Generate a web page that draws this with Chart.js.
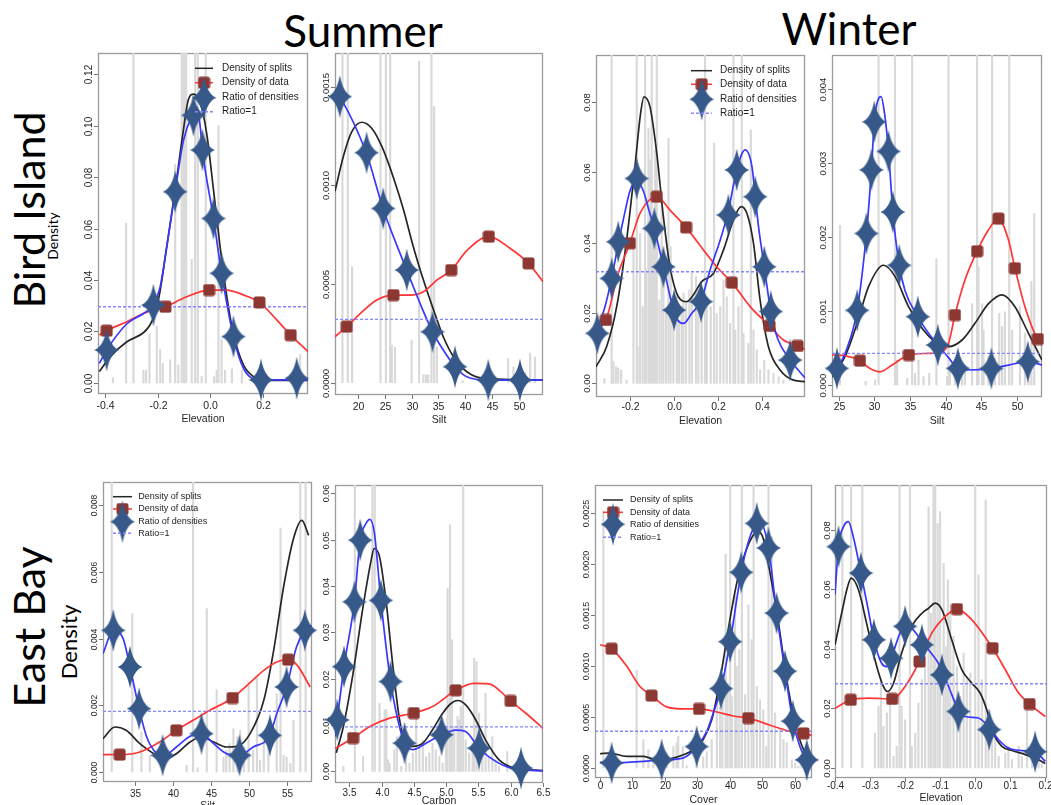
<!DOCTYPE html>
<html>
<head>
<meta charset="utf-8">
<script src="https://cdn.jsdelivr.net/npm/chart.js@4.4.1/dist/chart.umd.min.js"></script>
<style>
  html, body { margin: 0; padding: 0; background: #fff; }
  body { width: 1051px; height: 805px; position: relative; overflow: hidden; }
  canvas.panel { position: absolute; }
  .lbl { position: absolute; font-family: Lato, "Open Sans", sans-serif; color: #000; white-space: nowrap; }
  .title { font-size: 44px; line-height: 44px; transform: translateX(-50%); }
  .rot { transform: translate(-50%, -50%) rotate(-90deg); }
</style>
</head>
<body>
<div class="lbl title" style="left:363px; top:8px;">Summer</div>
<div class="lbl title" style="left:849px; top:6px;">Winter</div>
<div class="lbl rot" style="left:28.4px; top:210px; font-size:43px; line-height:43px;">Bird Island</div>
<div class="lbl rot" style="left:28.4px; top:627px; font-size:43px; line-height:43px;">East Bay</div>
<div class="lbl rot" style="left:52.9px; top:236px; font-size:14px; line-height:14px;">Density</div>
<div class="lbl rot" style="left:68.5px; top:642px; font-size:22px; line-height:22px;">Density</div>

<script>
// ---------- legend and axis text ----------
const legendLabels = ['Density of splits', 'Density of data', 'Ratio of densities', 'Ratio=1'];
const xTitles = ['Elevation', 'Silt', 'Elevation', 'Silt', 'Silt', 'Carbon', 'Cover', 'Elevation'];

// ---------- Bird Island, summer, elevation ----------
const p1XTicks = [-0.4, -0.2, 0, 0.2];
const p1XLabels = ['-0.4', '-0.2', '0.0', '0.2'];
const p1YTicks = [0, 0.02, 0.04, 0.06, 0.08, 0.10, 0.12];
const p1YLabels = ['0.00', '0.02', '0.04', '0.06', '0.08', '0.10', '0.12'];
const p1Bars = [[-0.37,0.002],[-0.32,0.062],[-0.292,0.13],[-0.254,0.005],[-0.244,0.005],[-0.231,0.019],[-0.203,0.022],[-0.19,0.013],[-0.18,0.0075],[-0.152,0.009],[-0.133,0.085],[-0.121,0.007],[-0.108,0.13],[-0.099,0.13],[-0.091,0.13],[-0.07,0.048],[-0.057,0.13],[-0.047,0.13],[-0.032,0.0025],[-0.0165,0.13],[0.015,0.0025],[0.025,0.005],[0.032,0.1],[0.044,0.017],[0.057,0.005],[0.083,0.0055],[0.121,0.005],[0.343,0.011]];
const p1Splits = [[-0.422,0.0044],[-0.38,0.0102],[-0.317,0.016],[-0.254,0.0195],[-0.229,0.0225],[-0.21,0.027],[-0.19,0.036],[-0.165,0.053],[-0.133,0.075],[-0.102,0.098],[-0.083,0.11],[-0.0635,0.1122],[-0.038,0.109],[-0.013,0.097],[0.013,0.075],[0.038,0.053],[0.063,0.034],[0.089,0.019],[0.127,0.007],[0.165,0.0025],[0.216,0.001],[0.373,0.001]];
const p1Data = [[-0.422,0.0186],[-0.394,0.0203],[-0.317,0.0238],[-0.254,0.027],[-0.17,0.0296],[-0.089,0.0335],[-0.004,0.0361],[0.063,0.0361],[0.127,0.0342],[0.188,0.0313],[0.254,0.0245],[0.307,0.0186],[0.373,0.0122]];
const p1Ratio = [[-0.422,0.0076],[-0.394,0.0128],[-0.317,0.023],[-0.254,0.027],[-0.216,0.0303],[-0.19,0.0374],[-0.165,0.053],[-0.133,0.0743],[-0.102,0.094],[-0.0635,0.105],[-0.05,0.107],[-0.038,0.1],[-0.029,0.0905],[0.013,0.0639],[0.044,0.0426],[0.089,0.018],[0.127,0.0057],[0.19,0.0012],[0.373,0.0012]];
const p1Stars = [[-0.394,0.0128],[-0.216,0.0303],[-0.133,0.0743],[-0.0635,0.104],[-0.029,0.0905],[0.013,0.0639],[0.044,0.0426],[0.089,0.018],[0.194,0.0012],[0.33,0.0018]];
const p1Squares = [[-0.394,0.0203],[-0.17,0.0296],[-0.004,0.0361],[0.188,0.0313],[0.307,0.0186]];
const p1One = 0.0296;

// ---------- Bird Island, summer, silt ----------
const p2XTicks = [20, 25, 30, 35, 40, 45, 50];
const p2XLabels = ['20', '25', '30', '35', '40', '45', '50'];
const p2YTicks = [0, 0.0005, 0.0010, 0.0015];
const p2YLabels = ['0.0000', '0.0005', '0.0010', '0.0015'];
const p2Bars = [[17.1,0.0017],[18.1,0.0017],[18.9,0.000588],[24.2,0.0017],[25.2,0.0017],[26.0,0.0017],[26.3,0.00019],[26.9,0.00018],[30.0,0.000216],[31.4,0.00163],[32.2,0.00004],[32.7,0.00004],[33.1,0.00004],[33.7,0.0017],[34.2,0.0014],[34.7,0.00018],[39.5,0.00001],[48.0,0.000123],[49.0,0.00008],[49.9,0.00005],[51.2,0.00005],[52.1,0.00015],[53.0,0.00013]];
const p2Splits = [[15.71,0.00097],[17.3,0.00115],[18.8,0.00127],[20.7,0.00132],[22.55,0.00129],[24.4,0.0012],[26.6,0.00104],[28.5,0.000875],[30.3,0.00069],[32.2,0.00052],[34.1,0.000368],[35.9,0.000233],[37.8,0.000132],[40.3,0.0000557],[43.4,0.000022],[54.5,0.0000135]];
const p2Data = [[15.71,0.000233],[17.9,0.000284],[20.4,0.00035],[23.5,0.000419],[26.6,0.000444],[29.7,0.000444],[32.2,0.000461],[34.7,0.00052],[37.4,0.000571],[40.3,0.00067],[44.4,0.00074],[48.4,0.00068],[51.8,0.000605],[54.5,0.000512]];
const p2Ratio = [[15.71,0.00148],[16.6,0.00145],[21.6,0.00116],[24.7,0.00088],[29.1,0.00057],[31.6,0.0004],[33.9,0.000258],[35.9,0.000166],[38.1,0.000081],[40.3,0.00003],[44.3,0.0000135],[54.5,0.0000135]];
const p2Stars = [[16.6,0.00145],[21.6,0.001166],[24.7,0.000883],[29.1,0.000571],[33.9,0.000258],[38.1,0.000081],[44.3,0.0000135],[50.2,0.0000135]];
const p2Squares = [[17.9,0.000284],[26.6,0.000444],[37.4,0.000571],[44.4,0.00074],[51.8,0.000605]];
const p2One = 0.000321;

// ---------- Bird Island, winter, elevation ----------
const p3XTicks = [-0.2, 0, 0.2, 0.4];
const p3XLabels = ['-0.2', '0.0', '0.2', '0.4'];
const p3YTicks = [0, 0.02, 0.04, 0.06, 0.08];
const p3YLabels = ['0.00', '0.02', '0.04', '0.06', '0.08'];
const p3Bars = [[-0.318,0.0014],[-0.285,0.095],[-0.277,0.0062],[-0.265,0.0047],[-0.255,0.0043],[-0.242,0.0038],[-0.217,0.0009],[-0.186,0.0388],[-0.171,0.095],[-0.167,0.0104],[-0.156,0.0426],[-0.144,0.0218],[-0.133,0.095],[-0.129,0.0322],[-0.118,0.0724],[-0.111,0.0634],[-0.103,0.095],[-0.095,0.0407],[-0.088,0.0663],[-0.08,0.095],[-0.068,0.0237],[-0.058,0.0521],[-0.05,0.0313],[-0.038,0.0199],[-0.027,0.0696],[-0.017,0.0388],[-0.0045,0.0237],[0.011,0.0256],[0.021,0.018],[0.033,0.0218],[0.041,0.0256],[0.053,0.0227],[0.068,0.0265],[0.079,0.0313],[0.098,0.0303],[0.109,0.0265],[0.124,0.0218],[0.139,0.095],[0.147,0.0237],[0.165,0.0218],[0.18,0.0682],[0.192,0.0199],[0.208,0.0218],[0.223,0.0294],[0.238,0.0246],[0.253,0.017],[0.268,0.095],[0.276,0.0152],[0.291,0.0218],[0.306,0.095],[0.314,0.0142],[0.336,0.0114],[0.347,0.072],[0.359,0.0152],[0.374,0.0095],[0.389,0.0038],[0.408,0.0066],[0.427,0.0038],[0.45,0.0028],[0.473,0.0019],[0.495,0.0009]];
const p3Splits = [[-0.356,0.0047],[-0.308,0.0104],[-0.262,0.0218],[-0.217,0.0407],[-0.179,0.0616],[-0.155,0.076],[-0.138,0.0814],[-0.111,0.0786],[-0.08,0.0653],[-0.05,0.0473],[-0.02,0.0331],[0.018,0.0246],[0.056,0.0232],[0.086,0.0251],[0.124,0.0289],[0.177,0.0312],[0.223,0.0379],[0.268,0.0464],[0.303,0.0502],[0.329,0.0483],[0.359,0.0398],[0.389,0.0237],[0.427,0.0104],[0.48,0.0038],[0.541,0.0009],[0.593,0.0005]];
const p3Data = [[-0.356,0.0152],[-0.311,0.018],[-0.255,0.0312],[-0.202,0.0398],[-0.156,0.0483],[-0.08,0.053],[-0.02,0.0492],[0.053,0.0443],[0.132,0.0379],[0.192,0.0331],[0.261,0.0286],[0.344,0.0218],[0.432,0.0163],[0.495,0.0123],[0.559,0.0106],[0.593,0.0097]];
const p3Ratio = [[-0.356,0.0142],[-0.315,0.0218],[-0.285,0.0298],[-0.255,0.0395],[-0.232,0.0465],[-0.2,0.055],[-0.171,0.0575],[-0.14,0.0545],[-0.115,0.049],[-0.091,0.044],[-0.05,0.0331],[-0.0045,0.021],[0.015,0.018],[0.041,0.017],[0.079,0.0199],[0.121,0.0235],[0.162,0.0322],[0.208,0.0407],[0.245,0.049],[0.283,0.0606],[0.321,0.0663],[0.352,0.0616],[0.367,0.053],[0.382,0.0445],[0.408,0.0331],[0.438,0.0204],[0.47,0.0125],[0.526,0.0066],[0.593,0.0015]];
const p3Stars = [[-0.35,0.0142],[-0.285,0.0298],[-0.255,0.0402],[-0.171,0.0582],[-0.091,0.044],[-0.05,0.0331],[-0.0015,0.0208],[0.121,0.0232],[0.245,0.0478],[0.283,0.0606],[0.367,0.053],[0.408,0.0331],[0.438,0.0204],[0.526,0.0066]];
const p3Squares = [[-0.311,0.018],[-0.202,0.0398],[-0.08,0.053],[0.053,0.0443],[0.261,0.0286],[0.432,0.0163],[0.559,0.0106]];
const p3One = 0.0317;

// ---------- Bird Island, winter, silt ----------
const p4XTicks = [25, 30, 35, 40, 45, 50];
const p4XLabels = ['25', '30', '35', '40', '45', '50'];
const p4YTicks = [0, 0.001, 0.002, 0.003, 0.004];
const p4YLabels = ['0.000', '0.001', '0.002', '0.003', '0.004'];
const p4Bars = [[25.2,0.00216],[28.8,0.00005],[30.1,0.00007],[30.6,0.0045],[32.9,0.0045],[33.2,0.000338],[34.6,0.00009],[35.3,0.0045],[35.7,0.000158],[36.2,0.000338],[36.9,0.000113],[37.7,0.000158],[38.7,0.00171],[40.2,0.000113],[40.4,0.0045],[40.6,0.00018],[41.3,0.000248],[42.3,0.000158],[42.7,0.000225],[43.7,0.0011],[44.4,0.0045],[44.6,0.0016],[45.1,0.0011],[45.3,0.000744],[46.0,0.000383],[46.5,0.0045],[46.9,0.00036],[47.5,0.00097],[47.9,0.00079],[48.3,0.00099],[48.9,0.0045],[49.3,0.000744],[50.4,0.00106],[51.1,0.0007],[51.6,0.000338],[52.0,0.0014],[52.4,0.00232]];
const p4Splits = [[24.07,0.000113],[25.9,0.000383],[27.6,0.000834],[29.2,0.00133],[31.3,0.00162],[32.9,0.00147],[34.8,0.00106],[36.7,0.000767],[38.5,0.000586],[40.4,0.000519],[42.3,0.000609],[44.1,0.000834],[46.0,0.0011],[47.9,0.00122],[49.7,0.00106],[51.6,0.000699],[53.49,0.000338]];
const p4Data = [[24.07,0.000406],[26.0,0.000395],[28.0,0.000329],[29.4,0.000225],[30.8,0.00018],[32.5,0.00027],[34.85,0.000406],[37.6,0.000428],[39.5,0.000451],[40.4,0.000564],[41.3,0.000947],[42.7,0.00142],[44.4,0.00181],[46.0,0.0021],[47.4,0.00225],[48.8,0.00196],[49.7,0.00158],[51.1,0.00106],[52.9,0.000622],[53.49,0.000586]];
const p4Ratio = [[24.07,0.000158],[24.77,0.000225],[26.0,0.00045],[27.6,0.00101],[28.9,0.00205],[29.6,0.00291],[30.0,0.00356],[30.5,0.00385],[30.95,0.0039],[31.4,0.0037],[32.0,0.00316],[32.6,0.00234],[33.5,0.00162],[34.3,0.00128],[36.1,0.000924],[37.6,0.000699],[38.9,0.000541],[40.4,0.00037],[41.7,0.000225],[43.2,0.000203],[46.4,0.000225],[48.8,0.00027],[51.5,0.000316],[53.49,0.00027]];
const p4Stars = [[24.77,0.000225],[27.6,0.00101],[28.9,0.00205],[29.6,0.00291],[30.0,0.00356],[32.0,0.00316],[32.6,0.00234],[33.5,0.00162],[36.1,0.000924],[38.9,0.000541],[41.7,0.000225],[46.4,0.000225],[51.5,0.000316]];
const p4Squares = [[28.0,0.000329],[34.85,0.000406],[41.3,0.000947],[44.4,0.00181],[47.4,0.00225],[49.7,0.00158],[52.9,0.000622]];
const p4One = 0.000428;

// ---------- East Bay, summer, silt ----------
const p5XTicks = [35, 40, 45, 50, 55];
const p5XLabels = ['35', '40', '45', '50', '55'];
const p5YTicks = [0, 0.002, 0.004, 0.006, 0.008];
const p5YLabels = ['0.000', '0.002', '0.004', '0.006', '0.008'];
const p5Bars = [[31.9,0.009],[34.6,0.00475],[35.8,0.0012],[36.9,0.0005],[41.75,0.0002],[42.6,0.009],[43.2,0.00013],[44.4,0.0049],[45.7,0.00247],[46.6,0.00045],[46.96,0.00065],[47.4,0.00085],[47.9,0.0013],[48.4,0.00105],[48.8,0.00125],[49.3,0.00075],[49.9,0.0027],[50.5,0.00065],[51.0,0.00285],[51.4,0.00035],[51.9,0.00095],[52.5,0.00125],[53.6,0.00235],[54.1,0.00732],[54.5,0.0005],[54.9,0.00045],[55.4,0.00025],[55.8,0.00155],[56.7,0.009],[57.4,0.009]];
const p5Splits = [[30.75,0.001],[32.3,0.00135],[33.8,0.00125],[35.6,0.00085],[37.4,0.00055],[38.7,0.00037],[40.4,0.00055],[42.2,0.0009],[43.7,0.00105],[45.3,0.0009],[47.0,0.00075],[48.4,0.00077],[50.1,0.00115],[51.9,0.00215],[53.2,0.00365],[54.5,0.00555],[55.8,0.007],[56.9,0.00755],[57.8,0.0071]];
const p5Data = [[30.75,0.00052],[32.95,0.00052],[35.6,0.0006],[38.2,0.0009],[40.4,0.00125],[42.6,0.00155],[44.8,0.00185],[47.8,0.00222],[49.7,0.0026],[51.9,0.00305],[53.6,0.0033],[55.1,0.00337],[56.3,0.0032],[58.0,0.00255]];
const p5Ratio = [[30.75,0.00355],[32.1,0.00425],[33.4,0.004],[34.3,0.00315],[35.5,0.0019],[36.5,0.00105],[37.8,0.00055],[38.6,0.00047],[40.4,0.00075],[42.2,0.00107],[43.7,0.00115],[45.3,0.00085],[47.0,0.00055],[48.7,0.0005],[50.5,0.00075],[52.7,0.0011],[53.6,0.00175],[54.9,0.00255],[56.2,0.00375],[57.3,0.00425],[58.2,0.0044]];
const p5Stars = [[32.1,0.00425],[34.3,0.00315],[35.5,0.0019],[38.6,0.0005],[43.7,0.00115],[48.7,0.0005],[52.7,0.0011],[54.9,0.00255],[57.3,0.00425]];
const p5Squares = [[32.95,0.00052],[40.4,0.00125],[47.8,0.00222],[55.1,0.00337]];
const p5One = 0.00182;

// ---------- East Bay, summer, carbon ----------
const p6XTicks = [3.5, 4.0, 4.5, 5.0, 5.5, 6.0, 6.5];
const p6XLabels = ['3.5', '4.0', '4.5', '5.0', '5.5', '6.0', '6.5'];
const p6YTicks = [0, 0.01, 0.02, 0.03, 0.04, 0.05, 0.06];
const p6YLabels = ['0.00', '0.01', '0.02', '0.03', '0.04', '0.05', '0.06'];
const p6Bars = [[3.41,0.0011],[3.587,0.062],[3.715,0.0032],[3.859,0.062],[3.895,0.062],[3.97,0.0147],[4.05,0.0133],[4.074,0.0133],[4.1,0.0025],[4.126,0.0018],[4.2,0.0047],[4.238,0.0075],[4.305,0.0011],[4.38,0.004],[4.433,0.0018],[4.485,0.004],[4.536,0.0126],[4.587,0.0054],[4.64,0.0068],[4.69,0.0032],[4.74,0.004],[4.79,0.0061],[4.84,0.0047],[4.895,0.0032],[4.946,0.0018],[4.997,0.0068],[5.023,0.0395],[5.06,0.0532],[5.09,0.0284],[5.126,0.0097],[5.177,0.0119],[5.2,0.0111],[5.228,0.014],[5.264,0.062],[5.305,0.0068],[5.356,0.004],[5.41,0.0061],[5.433,0.0244],[5.47,0.0237],[5.51,0.0126],[5.56,0.0083],[5.61,0.0169],[5.66,0.0032],[5.715,0.0075],[5.767,0.0025],[5.818,0.0011],[5.946,0.0043],[6.074,0.0004]];
const p6Splits = [[3.3,0.004],[3.41,0.0097],[3.56,0.0212],[3.715,0.0356],[3.84,0.0456],[3.885,0.0481],[3.97,0.0463],[4.074,0.0363],[4.177,0.0226],[4.28,0.0111],[4.38,0.0061],[4.485,0.0054],[4.64,0.0061],[4.79,0.009],[4.95,0.0126],[5.07,0.0146],[5.18,0.0153],[5.3,0.0144],[5.46,0.0111],[5.61,0.0068],[5.82,0.0025],[6.07,0.0007],[6.5,0.0002]];
const p6Data = [[3.285,0.005],[3.56,0.0072],[3.82,0.0097],[4.126,0.0115],[4.5,0.0126],[4.79,0.014],[5.15,0.0175],[5.43,0.019],[5.66,0.0189],[6.0,0.0152],[6.23,0.0126],[6.5,0.0093]];
const p6Ratio = [[3.285,0.0075],[3.315,0.0111],[3.42,0.0226],[3.58,0.0366],[3.67,0.0499],[3.76,0.0535],[3.82,0.0544],[3.89,0.0514],[3.99,0.0369],[4.14,0.0194],[4.254,0.0111],[4.356,0.0061],[4.485,0.0047],[4.69,0.0061],[4.93,0.0079],[5.15,0.0089],[5.3,0.0086],[5.51,0.005],[5.66,0.0032],[5.92,0.0011],[6.16,0.0004],[6.5,0.0001]];
const p6Stars = [[3.315,0.0111],[3.42,0.0226],[3.58,0.0366],[3.67,0.0499],[3.99,0.0369],[4.14,0.0194],[4.356,0.0061],[4.93,0.0079],[5.51,0.005],[6.16,0.0007]];
const p6Squares = [[3.56,0.0072],[4.5,0.0126],[5.15,0.0175],[6.0,0.0152]];
const p6One = 0.0096;

// ---------- East Bay, winter, cover ----------
const p7XTicks = [0, 10, 20, 30, 40, 50, 60];
const p7XLabels = ['0', '10', '20', '30', '40', '50', '60'];
const p7YTicks = [0, 0.0005, 0.0010, 0.0015, 0.0020, 0.0025];
const p7YLabels = ['0.0000', '0.0005', '0.0010', '0.0015', '0.0020', '0.0025'];
const p7Bars = [[1.03,0.00252],[11.3,0.00096],[13.35,0.00028],[14.9,0.00018],[16.4,0.00011],[19.0,0.00018],[20.5,0.00015],[22.6,0.00021],[23.6,0.00025],[24.1,0.00031],[25.5,0.00021],[26.7,0.00002],[29.8,0.00011],[31.8,0.00011],[32.9,0.00016],[34.4,0.00028],[36.0,0.0007],[37.0,0.0008],[37.7,0.00087],[38.7,0.0021],[39.3,0.00083],[40.1,0.0028],[40.6,0.0007],[41.6,0.0017],[42.1,0.001],[42.9,0.00116],[43.7,0.0028],[44.7,0.00072],[45.7,0.0016],[46.7,0.00126],[47.3,0.0028],[48.3,0.0008],[49.3,0.00067],[50.3,0.00057],[51.2,0.00021],[51.9,0.0028],[52.9,0.00227],[53.9,0.00054],[55.5,0.00038],[56.5,0.00028],[57.5,0.00025],[59.1,0.00008],[60.1,0.00005],[61.1,0.00002],[62.1,0.00008]];
const p7Splits = [[0,0.00014],[3.08,0.000147],[8.2,0.000114],[13.4,0.000114],[17.5,0.00008],[21.6,0.00009],[25.7,0.00013],[28.8,0.00018],[31.8,0.00028],[34.4,0.00047],[37.0,0.00087],[39.5,0.00136],[42.1,0.00181],[44.7,0.00211],[47.3,0.00229],[48.8,0.00232],[50.3,0.00225],[52.4,0.00191],[55.0,0.00142],[57.5,0.00087],[60.1,0.00044],[62.7,0.00018],[65.2,0.00007]];
const p7Data = [[0,0.00121],[3.6,0.00117],[8.2,0.001],[12.3,0.0008],[15.9,0.00071],[20.5,0.0006],[25.7,0.00058],[30.5,0.00058],[36.0,0.00055],[41.1,0.00051],[45.7,0.00049],[52.4,0.00042],[58.6,0.00036],[62.7,0.00034],[65.2,0.00032]];
const p7Ratio = [[0,0.000056],[3.6,0.00005],[13.4,0.000065],[19.0,0.00008],[25.7,0.0001],[29.8,0.00021],[32.9,0.00036],[35.0,0.00055],[37.3,0.00078],[40.1,0.00124],[43.5,0.00192],[46.0,0.00225],[48.3,0.0024],[49.3,0.00241],[51.9,0.00216],[54.4,0.00152],[57.0,0.00095],[59.4,0.00046],[61.6,0.00021],[63.7,0.00008],[65.2,0.00005]];
const p7Stars = [[3.6,0.00005],[19.0,0.00008],[29.8,0.00021],[37.3,0.00078],[40.1,0.00124],[43.5,0.00192],[48.3,0.0024],[51.9,0.00216],[54.4,0.00152],[57.0,0.00095],[59.4,0.00046],[63.7,0.00008]];
const p7Squares = [[3.6,0.00117],[15.9,0.00071],[30.5,0.00058],[45.7,0.00049],[62.7,0.00034]];
const p7One = 0.00036;

// ---------- East Bay, winter, elevation ----------
const p8XTicks = [-0.4, -0.3, -0.2, -0.1, 0, 0.1, 0.2];
const p8XLabels = ['-0.4', '-0.3', '-0.2', '-0.1', '0.0', '0.1', '0.2'];
const p8YTicks = [0, 0.02, 0.04, 0.06, 0.08];
const p8YLabels = ['0.00', '0.02', '0.04', '0.06', '0.08'];
const p8Bars = [[-0.379,0.096],[-0.354,0.096],[-0.322,0.096],[-0.286,0.0117],[-0.276,0.0207],[-0.269,0.0297],[-0.262,0.014],[-0.252,0.0185],[-0.243,0.0252],[-0.233,0.0039],[-0.224,0.0073],[-0.216,0.096],[-0.21,0.0207],[-0.2,0.0162],[-0.186,0.096],[-0.181,0.0073],[-0.171,0.0117],[-0.162,0.0218],[-0.152,0.0297],[-0.143,0.0408],[-0.133,0.0878],[-0.126,0.052],[-0.119,0.096],[-0.114,0.096],[-0.107,0.0822],[-0.1,0.0862],[-0.09,0.0688],[-0.084,0.0408],[-0.078,0.0632],[-0.071,0.052],[-0.062,0.0442],[-0.052,0.0341],[-0.043,0.0241],[-0.033,0.0386],[-0.024,0.0297],[-0.014,0.0319],[0,0.096],[0.0095,0.0649],[0.019,0.0297],[0.03,0.09],[0.038,0.0185],[0.048,0.014],[0.057,0.0117],[0.067,0.0039],[0.086,0.005],[0.095,0.0073],[0.105,0.0028],[0.124,0.0073],[0.133,0.0039],[0.148,0.0207],[0.162,0.0039],[0.181,0.005],[0.19,0.0017]];
const p8Splits = [[-0.4,0.0414],[-0.381,0.052],[-0.365,0.0605],[-0.354,0.0638],[-0.333,0.0599],[-0.31,0.0487],[-0.286,0.0364],[-0.262,0.0274],[-0.25,0.0257],[-0.233,0.0285],[-0.21,0.0386],[-0.181,0.0476],[-0.152,0.052],[-0.133,0.0537],[-0.114,0.0554],[-0.095,0.0532],[-0.067,0.0431],[-0.038,0.033],[-0.0095,0.0285],[0.014,0.0252],[0.033,0.0196],[0.052,0.0117],[0.076,0.0073],[0.105,0.0059],[0.143,0.0045],[0.181,0.0028],[0.2,0.0015]];
const p8Data = [[-0.4,0.0201],[-0.355,0.0229],[-0.305,0.0235],[-0.237,0.0232],[-0.2,0.0274],[-0.159,0.0358],[-0.124,0.0453],[-0.086,0.0509],[-0.052,0.0534],[-0.0095,0.0498],[0.0495,0.0403],[0.086,0.033],[0.124,0.0252],[0.155,0.0215],[0.2,0.0173]];
const p8Ratio = [[-0.4,0.0582],[-0.39,0.0744],[-0.373,0.0817],[-0.362,0.0828],[-0.348,0.0778],[-0.326,0.0655],[-0.305,0.0531],[-0.289,0.0431],[-0.267,0.0352],[-0.252,0.0341],[-0.24,0.0369],[-0.21,0.0464],[-0.19,0.0476],[-0.162,0.0442],[-0.133,0.0397],[-0.105,0.0352],[-0.076,0.0274],[-0.048,0.0195],[-0.029,0.0173],[0.0095,0.0168],[0.04,0.0135],[0.067,0.0095],[0.095,0.0067],[0.143,0.0058],[0.171,0.0055],[0.2,0.0022]];
const p8Stars = [[-0.39,0.0744],[-0.326,0.0655],[-0.289,0.0431],[-0.24,0.0369],[-0.2,0.0476],[-0.152,0.0414],[-0.095,0.0313],[-0.048,0.019],[0.04,0.0129],[0.171,0.0055]];
const p8Squares = [[-0.355,0.0229],[-0.237,0.0232],[-0.159,0.0358],[-0.052,0.0534],[0.0495,0.0403],[0.155,0.0215]];
const p8One = 0.0283;

// ---------- styling ----------
const SPLIT_COLOR = '#262626';
const DATA_COLOR = '#ff3434';
const RATIO_COLOR = '#3838ff';
const ONE_COLOR = '#8585ff';
const BAR_COLOR = '#d9d9d9';
const STAR_COLOR = '#36598a';
const SQUARE_COLOR = '#8d3732';
const TICK_FONT = '"Liberation Sans", Arial, sans-serif';

// four-pointed star marker
function makeStar(w, h) {
  const c = document.createElement('canvas');
  c.width = w; c.height = h;
  const g = c.getContext('2d');
  const cx = w / 2, cy = h / 2, k = 3.2;
  g.fillStyle = STAR_COLOR;
  g.beginPath();
  g.moveTo(cx, 0.5);
  g.quadraticCurveTo(cx + k, cy - k, w - 0.5, cy);
  g.quadraticCurveTo(cx + k, cy + k, cx, h - 0.5);
  g.quadraticCurveTo(cx - k, cy + k, 0.5, cy);
  g.quadraticCurveTo(cx - k, cy - k, cx, 0.5);
  g.closePath();
  g.fill();
  return c;
}
// rounded square marker
function makeSquare(s, r) {
  const c = document.createElement('canvas');
  c.width = s; c.height = s;
  const g = c.getContext('2d');
  g.fillStyle = SQUARE_COLOR;
  g.beginPath();
  g.roundRect(0.5, 0.5, s - 1, s - 1, r);
  g.fill();
  return c;
}
const starImg = makeStar(26, 44);
const squareImg = makeSquare(13, 2.5);

const pts = a => a.map(([x, y]) => ({ x, y }));

const panels = [
  { box: [98, 53, 308, 394], x: [-0.427, 0.373], y: [-0.0043, 0.1282],
    bars: p1Bars, splits: p1Splits, data: p1Data, ratio: p1Ratio, stars: p1Stars, squares: p1Squares, one: p1One,
    xTicks: p1XTicks, xLabels: p1XLabels, yTicks: p1YTicks, yLabels: p1YLabels, title: xTitles[0],
    xFont: 10.5, yFont: 10, xGap: 12.5, tGap: 25, yGap: 9,
    legend: { x0: 195, x1: 213, cx: 204, tx: 222, rows: [68.3, 82.7, 97.7, 111.7], font: 10 } },
  { box: [335, 53, 543, 395], x: [15.71, 54.5], y: [-0.0000623, 0.001671],
    bars: p2Bars, splits: p2Splits, data: p2Data, ratio: p2Ratio, stars: p2Stars, squares: p2Squares, one: p2One,
    xTicks: p2XTicks, xLabels: p2XLabels, yTicks: p2YTicks, yLabels: p2YLabels, title: xTitles[1],
    xFont: 10.5, yFont: 9.5, xGap: 12.5, tGap: 25, yGap: 9 },
  { box: [596, 55, 805, 397], x: [-0.356, 0.593], y: [-0.00389, 0.09327],
    bars: p3Bars, splits: p3Splits, data: p3Data, ratio: p3Ratio, stars: p3Stars, squares: p3Squares, one: p3One,
    xTicks: p3XTicks, xLabels: p3XLabels, yTicks: p3YTicks, yLabels: p3YLabels, title: xTitles[2],
    xFont: 10.5, yFont: 9.5, xGap: 10.5, tGap: 24, yGap: 9,
    legend: { x0: 691, x1: 712, cx: 701.7, tx: 720, rows: [70.7, 84.3, 99.3, 113.3], font: 10 } },
  { box: [832, 55, 1042, 397], x: [24.08, 53.49], y: [-0.000162, 0.004464],
    bars: p4Bars, splits: p4Splits, data: p4Data, ratio: p4Ratio, stars: p4Stars, squares: p4Squares, one: p4One,
    xTicks: p4XTicks, xLabels: p4XLabels, yTicks: p4YTicks, yLabels: p4YLabels, title: xTitles[3],
    xFont: 10.5, yFont: 9.5, xGap: 10, tGap: 24, yGap: 9 },
  { box: [103, 482, 312, 782], x: [30.75, 58.24], y: [-0.0003, 0.0087],
    bars: p5Bars, splits: p5Splits, data: p5Data, ratio: p5Ratio, stars: p5Stars, squares: p5Squares, one: p5One,
    xTicks: p5XTicks, xLabels: p5XLabels, yTicks: p5YTicks, yLabels: p5YLabels, title: xTitles[4],
    xFont: 10, yFont: 8.5, xGap: 12.5, tGap: 24, yGap: 8,
    legend: { x0: 113, x1: 132, cx: 122.5, tx: 138.3, rows: [496.7, 509, 521.7, 533.3], font: 9 } },
  { box: [335, 485, 543, 783], x: [3.28, 6.5], y: [-0.0025, 0.0618],
    bars: p6Bars, splits: p6Splits, data: p6Data, ratio: p6Ratio, stars: p6Stars, squares: p6Squares, one: p6One,
    xTicks: p6XTicks, xLabels: p6XLabels, yTicks: p6YTicks, yLabels: p6YLabels, title: xTitles[5],
    xFont: 10, yFont: 9, xGap: 10, tGap: 18.5, yGap: 8 },
  { box: [595, 485, 812, 778], x: [-1.54, 65.3], y: [-0.000098, 0.002777],
    bars: p7Bars, splits: p7Splits, data: p7Data, ratio: p7Ratio, stars: p7Stars, squares: p7Squares, one: p7One,
    xTicks: p7XTicks, xLabels: p7XLabels, yTicks: p7YTicks, yLabels: p7YLabels, title: xTitles[6],
    xFont: 10, yFont: 9, xGap: 8.5, tGap: 22, yGap: 8,
    legend: { x0: 603, x1: 623, cx: 613, tx: 630, rows: [500, 512.3, 524.3, 537.3], font: 9 } },
  { box: [835, 485, 1047, 778], x: [-0.4, 0.2049], y: [-0.00336, 0.0951],
    bars: p8Bars, splits: p8Splits, data: p8Data, ratio: p8Ratio, stars: p8Stars, squares: p8Squares, one: p8One,
    xTicks: p8XTicks, xLabels: p8XLabels, yTicks: p8YTicks, yLabels: p8YLabels, title: xTitles[7],
    xFont: 10, yFont: 9.5, xGap: 8, tGap: 20, yGap: 8 }
];

const PAD = { left: 50, right: 16, top: 26, bottom: 32 };

// axes, frame and legend drawn around each panel's plotting area
function framePlugin(p, ox, oy) {
  return {
    id: 'frame',
    beforeDatasetsDraw(chart) {
      const { ctx, chartArea: a } = chart;
      const xs = chart.scales.x, ys = chart.scales.y;
      ctx.save();
      ctx.strokeStyle = '#9b9b9b';
      ctx.lineWidth = 1.3;
      ctx.strokeRect(a.left + 0.5, a.top + 0.5, a.right - a.left - 1, a.bottom - a.top - 1);
      ctx.strokeStyle = '#777';
      ctx.lineWidth = 1;
      ctx.fillStyle = '#262626';
      ctx.textAlign = 'center';
      ctx.textBaseline = 'middle';
      ctx.font = p.xFont + 'px ' + TICK_FONT;
      p.xTicks.forEach((v, i) => {
        const px = Math.round(xs.getPixelForValue(v)) + 0.5;
        ctx.beginPath(); ctx.moveTo(px, a.bottom); ctx.lineTo(px, a.bottom + 4); ctx.stroke();
        ctx.fillText(p.xLabels[i], px, a.bottom + p.xGap);
      });
      ctx.font = p.yFont + 'px ' + TICK_FONT;
      p.yTicks.forEach((v, i) => {
        const py = Math.round(ys.getPixelForValue(v)) + 0.5;
        ctx.beginPath(); ctx.moveTo(a.left - 4, py); ctx.lineTo(a.left, py); ctx.stroke();
        ctx.save();
        ctx.translate(a.left - p.yGap, py);
        ctx.rotate(-Math.PI / 2);
        ctx.fillText(p.yLabels[i], 0, 0);
        ctx.restore();
      });
      ctx.font = '10.5px ' + TICK_FONT;
      ctx.fillText(p.title, (a.left + a.right) / 2, a.bottom + p.tGap);
      ctx.restore();
    },
    afterDatasetsDraw(chart) {
      if (!p.legend) return;
      const L = p.legend, ctx = chart.ctx;
      const styles = [[SPLIT_COLOR, []], [DATA_COLOR, []], [RATIO_COLOR, []], [ONE_COLOR, [3, 2]]];
      ctx.save();
      ctx.font = L.font + 'px ' + TICK_FONT;
      ctx.textAlign = 'left';
      ctx.textBaseline = 'middle';
      L.rows.forEach((ry, k) => {
        const y = ry - oy;
        ctx.strokeStyle = styles[k][0];
        ctx.setLineDash(styles[k][1]);
        ctx.lineWidth = 1.5;
        ctx.beginPath(); ctx.moveTo(L.x0 - ox, y); ctx.lineTo(L.x1 - ox, y); ctx.stroke();
        ctx.setLineDash([]);
        if (k === 1) ctx.drawImage(squareImg, L.cx - ox - squareImg.width / 2, y - squareImg.height / 2);
        if (k === 2) ctx.drawImage(starImg, L.cx - ox - starImg.width / 2, y - starImg.height / 2);
        ctx.fillStyle = '#1e1e1e';
        ctx.fillText(legendLabels[k], L.tx - ox, y);
      });
      ctx.restore();
    }
  };
}

panels.forEach(p => {
  const [l, t, r, b] = p.box;
  const W = r - l + PAD.left + PAD.right;
  const H = b - t + PAD.top + PAD.bottom;
  const ox = l - PAD.left, oy = t - PAD.top;
  const cv = document.createElement('canvas');
  cv.className = 'panel';
  cv.width = W; cv.height = H;
  cv.style.left = ox + 'px'; cv.style.top = oy + 'px';
  cv.style.width = W + 'px'; cv.style.height = H + 'px';
  document.body.appendChild(cv);

  const curve = (data, color, order) => ({
    type: 'line', data: pts(data), borderColor: color, borderWidth: 1.7,
    pointRadius: 0, fill: false, cubicInterpolationMode: 'monotone', order, clip: 0
  });

  new Chart(cv.getContext('2d'), {
    type: 'line',
    data: {
      datasets: [
        { type: 'bar', data: pts(p.bars), backgroundColor: BAR_COLOR, borderWidth: 0, barThickness: 1.5, order: 6, clip: 0 },
        curve(p.splits, SPLIT_COLOR, 5),
        curve(p.data, DATA_COLOR, 4),
        curve(p.ratio, RATIO_COLOR, 3),
        { type: 'line', data: [{ x: p.x[0], y: p.one }, { x: p.x[1], y: p.one }], borderColor: ONE_COLOR,
          borderWidth: 1.4, borderDash: [3, 2], pointRadius: 0, fill: false, order: 2, clip: 0 },
        { type: 'line', data: pts(p.squares), showLine: false, pointStyle: squareImg, pointRadius: 7, order: 1, clip: false },
        { type: 'line', data: pts(p.stars), showLine: false, pointStyle: starImg, pointRadius: 10, order: 0, clip: false }
      ]
    },
    options: {
      responsive: false,
      animation: false,
      events: [],
      layout: { padding: PAD },
      plugins: { legend: { display: false }, tooltip: { enabled: false } },
      scales: {
        x: { type: 'linear', min: p.x[0], max: p.x[1], display: false, offset: false },
        y: { type: 'linear', min: p.y[0], max: p.y[1], display: false }
      }
    },
    plugins: [framePlugin(p, ox, oy)]
  });
});
</script>
</body>
</html>
